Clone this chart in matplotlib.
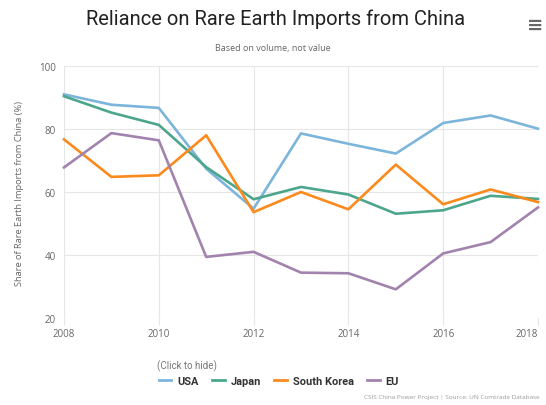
import matplotlib

matplotlib.use("Agg")

import matplotlib.pyplot as plt
from matplotlib.lines import Line2D

years = [2008, 2009, 2010, 2011, 2012, 2013, 2014, 2015, 2016, 2017, 2018]
usa = [91.0, 87.7, 86.7, 67.4, 54.7, 78.6, 75.3, 72.2, 81.9, 84.3, 80.1]
japan = [90.4, 85.2, 81.3, 67.9, 57.7, 61.6, 59.2, 53.1, 54.2, 58.8, 57.8]
south_korea = [76.7, 64.8, 65.3, 78.0, 53.6, 60.0, 54.5, 68.7, 56.1, 60.8, 56.8]
eu = [67.8, 78.7, 76.4, 39.4, 41.0, 34.4, 34.2, 29.1, 40.5, 44.1, 55.1]

series_names = ["USA", "Japan", "South Korea", "EU"]
series_values = [usa, japan, south_korea, eu]
series_colors = ["#7cb5dc", "#4ca68b", "#fb8a1c", "#a283ae"]

x_ticks = [2008, 2010, 2012, 2014, 2016, 2018]
y_ticks = [20, 40, 60, 80, 100]

fig = plt.figure(figsize=(5.46, 4.06), dpi=100)
ax = fig.add_axes([64 / 546, 1 - 319 / 406, (538 - 64) / 546, (319 - 67) / 406])

for name, values, color in zip(series_names, series_values, series_colors):
    ax.plot(years, values, color=color, linewidth=1.9, label=name,
            solid_joinstyle="round", clip_on=False)

ax.set_xlim(2008, 2018)
ax.set_ylim(20, 100)
ax.set_xticks(x_ticks)
ax.set_yticks(y_ticks)
ax.grid(True, color="#e6e6e6", linewidth=0.8)
ax.set_axisbelow(True)
for spine in ax.spines.values():
    spine.set_visible(False)
ax.tick_params(axis="x", colors="#e6e6e6", labelcolor="#666666", length=5,
               width=0.8, labelsize=7, pad=2)
ax.tick_params(axis="y", length=0, labelcolor="#666666", labelsize=7, pad=6)
for lbl in ax.get_xticklabels() + ax.get_yticklabels():
    lbl.set_fontfamily("Open Sans")
# last year label is pushed inside the figure, like the original
ax.get_xticklabels()[-1].set_horizontalalignment("right")
ax.set_ylabel("Share of Rare Earth Imports from China (%)", color="#666666",
              fontsize=6.7, fontfamily="Open Sans", labelpad=11)

fig.text(0.505, 0.952, "Reliance on Rare Earth Imports from China",
         ha="center", va="center", fontsize=14.5, fontfamily="Roboto", color="#222222")
fig.text(0.5, 0.881, "Based on volume, not value", ha="center", va="center",
         fontsize=6.5, fontfamily="Open Sans", color="#666666")
fig.text(535 / 546, 1 - 25 / 406, "≡", ha="center", va="center", fontsize=14,
         color="#666666", fontweight="bold")

fig.text(157 / 546, 1 - 366 / 406, "(Click to hide)", ha="left", va="center",
         fontsize=7, fontfamily="Roboto", color="#777777")
handles = [Line2D([], [], color=c, linewidth=2) for c in series_colors]
leg = fig.legend(handles, series_names, loc="center left",
                 bbox_to_anchor=(149 / 546, 1 - 382 / 406), ncol=4, frameon=False,
                 handlelength=1.15, handletextpad=0.55, columnspacing=1.2,
                 prop={"family": "Roboto", "weight": "bold", "size": 7.9})
for t in leg.get_texts():
    t.set_color("#333333")

fig.text(540 / 546, 1 - 398 / 406, "CSIS China Power Project | Source: UN Comtrade Database",
         ha="right", va="center", fontsize=4.6, fontfamily="Open Sans", color="#999999")

fig.savefig("out.png", dpi=100)
